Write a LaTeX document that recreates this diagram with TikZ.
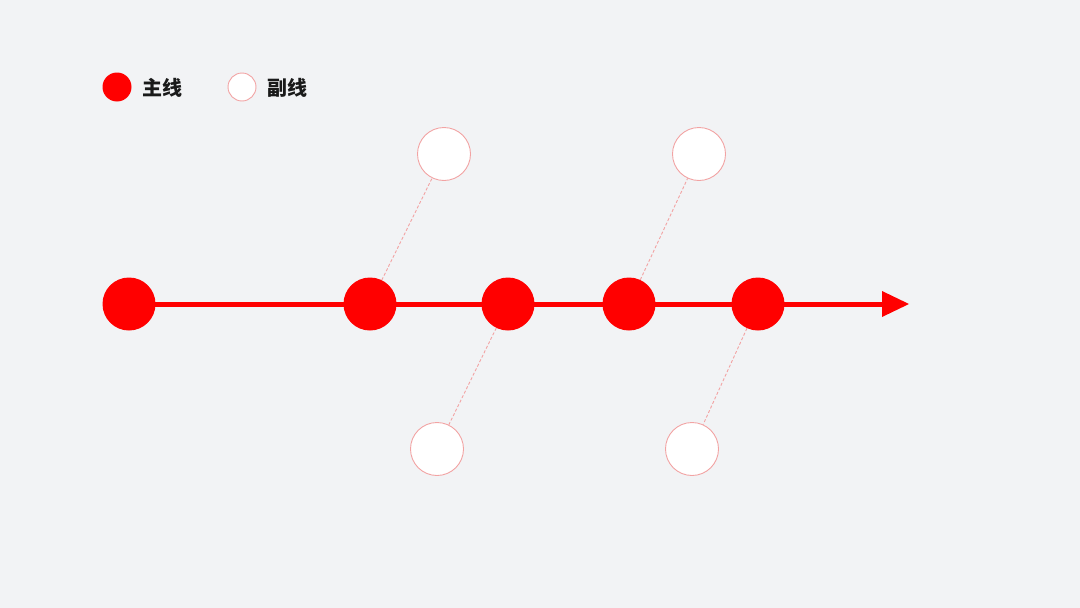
\documentclass[tikz,border=0pt]{standalone}
\usepackage{fontspec}
\newfontfamily\cjk{Noto Sans CJK SC}
\usetikzlibrary{arrows.meta}
\definecolor{bg}{HTML}{F2F3F5}
\definecolor{mainred}{HTML}{FF0000}
\definecolor{subedge}{HTML}{F2A3A3}
\definecolor{txt}{HTML}{1A1A1A}
\tikzset{
  mainnode/.style={circle,fill=mainred,minimum size=53pt,inner sep=0pt},
  subnode/.style={circle,fill=white,draw=subedge,line width=0.9pt,minimum size=53pt,inner sep=0pt},
  legmain/.style={circle,fill=mainred,minimum size=29pt,inner sep=0pt},
  legsub/.style={circle,fill=white,draw=subedge,line width=0.9pt,minimum size=28pt,inner sep=0pt},
  legtext/.style={anchor=west,inner sep=0pt,text=txt,font=\cjk\bfseries\fontsize{20}{24}\selectfont},
  mainline/.style={draw=mainred,line width=5pt},
  subline/.style={draw=subedge,line width=0.9pt,dash pattern=on 3pt off 2pt}
}
\begin{document}
\begin{tikzpicture}[x=1pt,y=-1pt]
\fill[bg] (0,0) rectangle (1080,608);
\useasboundingbox (0,0) rectangle (1080,608);
% legend
\node[legmain] (lm) at (117,87) {};
\node[legtext] (lmt) at (142,88) {主线};
\node[legsub] (ls) at (242,87) {};
\node[legtext] (lst) at (267,88) {副线};
% main nodes
\draw[mainline] (129,304) -- (885,304);
\fill[mainred] (882,291) -- (909,304) -- (882,317) -- cycle;
\node[mainnode] (m1) at (129,304) {};
\node[mainnode] (m2) at (370,304) {};
\node[mainnode] (m3) at (508,304) {};
\node[mainnode] (m4) at (629,304) {};
\node[mainnode] (m5) at (758,304) {};
% sub nodes
\node[subnode] (s1) at (444,154) {};
\node[subnode] (s2) at (437,449) {};
\node[subnode] (s3) at (699,154) {};
\node[subnode] (s4) at (692,449) {};
\draw[subline] (m2) -- (s1);
\draw[subline] (m3) -- (s2);
\draw[subline] (m4) -- (s3);
\draw[subline] (m5) -- (s4);
\end{tikzpicture}
\end{document}
